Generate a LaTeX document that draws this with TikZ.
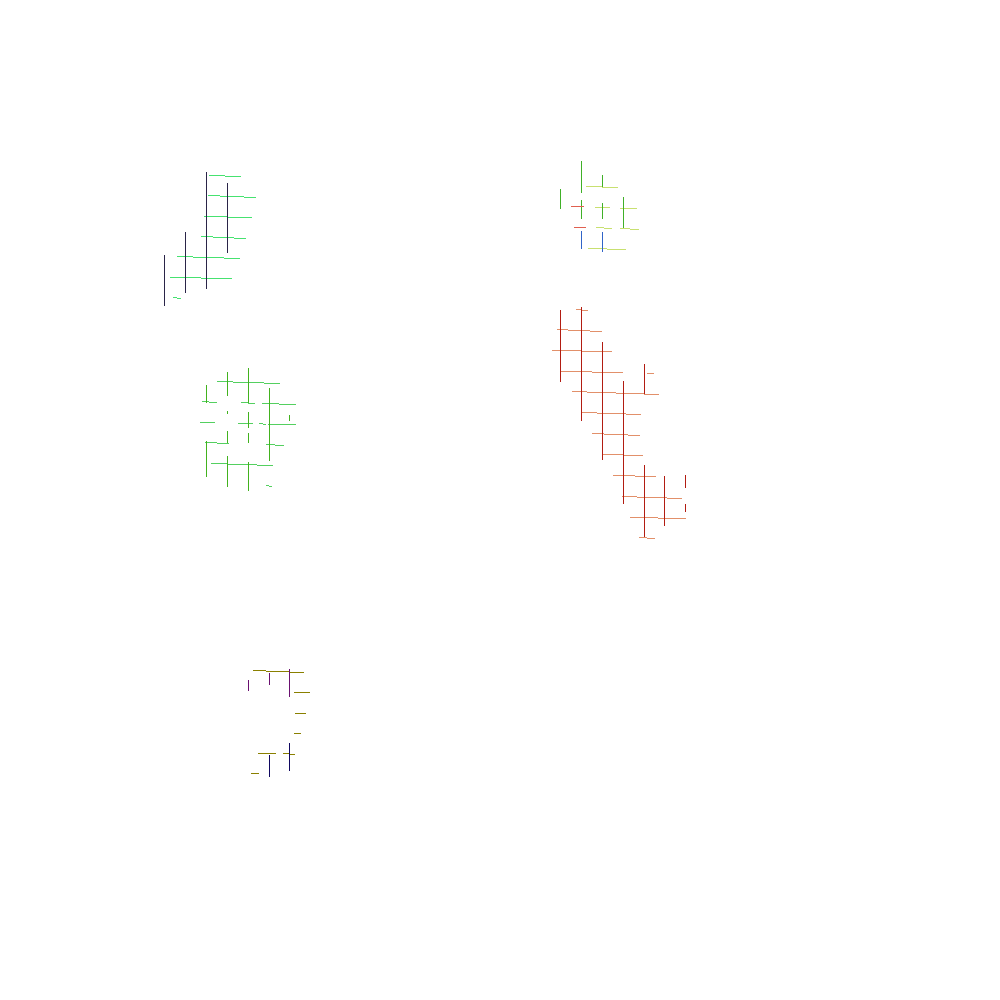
\documentclass[tikz,border=0pt]{standalone}
\begin{document}
\begin{tikzpicture}[x=0.3mm,y=-0.3mm,
  vv/.style={line width=1.3pt},
  hh/.style={line width=0.85pt},
  navyA/.style={vv,draw={rgb,255:red,42;green,36;blue,72}},
  greenA/.style={hh,draw={rgb,255:red,70;green,226;blue,112}},
  greenB/.style={vv,draw={rgb,255:red,64;green,176;blue,40}},
  blueB/.style={vv,draw={rgb,255:red,48;green,100;blue,200}},
  redB/.style={hh,draw={rgb,255:red,224;green,96;blue,80}},
  limeB/.style={hh,draw={rgb,255:red,200;green,224;blue,112}},
  greenC/.style={vv,draw={rgb,255:red,66;green,178;blue,30}},
  greenD/.style={hh,draw={rgb,255:red,84;green,208;blue,96}},
  redD/.style={vv,draw={rgb,255:red,178;green,28;blue,18}},
  orangeD/.style={hh,draw={rgb,255:red,226;green,144;blue,106}},
  oliveE/.style={hh,draw={rgb,255:red,138;green,128;blue,0}},
  purpleE/.style={vv,draw={rgb,255:red,106;green,16;blue,112}},
  navyE/.style={vv,draw={rgb,255:red,16;green,8;blue,96}}]
\useasboundingbox[fill=white] (0,0) rectangle (1000,1000);
% ---------- cluster 1 ----------
\draw[greenA] (209,175.3) -- (225,175.3) (225,176.3) -- (240.7,176.3);
\draw[greenA] (208,195.3) -- (220,195.3) (220,196.3) -- (244,196.3) (244,197.3) -- (256,197.3);
\draw[greenA] (204,216.3) -- (227.3,216.3) (227.3,217.3) -- (251.7,217.3);
\draw[greenA] (201,236.3) -- (212.7,236.3) (212.7,237.3) -- (234,237.3) (234,238.3) -- (246,238.3);
\draw[greenA] (177,256.3) -- (193,256.3) (193,257.3) -- (224,257.3) (224,258.3) -- (240,258.3);
\draw[greenA] (170,277.3) -- (201,277.3) (201,278.3) -- (232,278.3);
\draw[greenA] (173,297) -- (177,297) (177,298) -- (181,298);
\draw[navyA] (164.3,255) -- (164.3,305.7);
\draw[navyA] (185.3,232) -- (185.3,292.7);
\draw[navyA] (206.3,172.3) -- (206.3,288.7);
\draw[navyA] (227.3,183.3) -- (227.3,252.7);
% ---------- cluster 2 ----------
\draw[limeB] (586,186.3) -- (602.3,186.3) (602.3,187.3) -- (618,187.3);
\draw[limeB] (595,207.3) -- (610,207.3);
\draw[limeB] (620,208.3) -- (637,208.3);
\draw[limeB] (596,227.3) -- (604,227.3) (604,228.3) -- (612,228.3);
\draw[limeB] (620,228.3) -- (630,228.3) (630,229.3) -- (639,229.3);
\draw[limeB] (588,248.3) -- (607,248.3) (607,249.3) -- (626,249.3);
\draw[greenB] (581.3,161) -- (581.3,192.7);
\draw[greenB] (602.3,175) -- (602.3,186.7);
\draw[greenB] (560.3,189) -- (560.3,209);
\draw[greenB] (581.3,200) -- (581.3,219);
\draw[greenB] (602.3,203) -- (602.3,219);
\draw[greenB] (623.3,197) -- (623.3,228.3);
\draw[blueB] (581.3,231) -- (581.3,249);
\draw[blueB] (602.3,232) -- (602.3,251.7);
\draw[redB] (571,206.3) -- (584,206.3);
\draw[redB] (574,227.3) -- (586,227.3);
% ---------- cluster 3 ----------
\draw[greenD] (217,381.3) -- (233,381.3) (233,382.3) -- (264,382.3) (264,383.3) -- (280,383.3);
\draw[greenD] (202,401.3) -- (209,401.3) (209,402.3) -- (217,402.3);
\draw[greenD] (241,402.3) -- (248,402.3) (248,403.3) -- (255,403.3);
\draw[greenD] (262,403.3) -- (279,403.3) (279,404.3) -- (296,404.3);
\draw[greenD] (200,422.3) -- (215,422.3);
\draw[greenD] (238,423.3) -- (253,423.3);
\draw[greenD] (259,423.3) -- (263,423.3) (263,424.3) -- (266,424.3);
\draw[greenD] (268,424.3) -- (296,424.3);
\draw[greenD] (205,442.3) -- (217,442.3) (217,443.3) -- (229,443.3);
\draw[greenD] (266,444.3) -- (275,444.3) (275,445.3) -- (284,445.3);
\draw[greenD] (211,463.3) -- (228,463.3) (228,464.3) -- (257,464.3) (257,465.3) -- (273,465.3);
\draw[greenD] (266,485.3) -- (269,485.3) (269,486.3) -- (272,486.3);
\draw[greenC] (227.3,372.3) -- (227.3,395.7);
\draw[greenC] (248.3,368) -- (248.3,402.7);
\draw[greenC] (206.3,385) -- (206.3,402.7);
\draw[greenC] (269.3,388) -- (269.3,460.7);
\draw[greenC] (227.3,411) -- (227.3,414);
\draw[greenC] (248.3,412) -- (248.3,428);
\draw[greenC] (289.3,415) -- (289.3,421);
\draw[greenC] (227.3,431) -- (227.3,443);
\draw[greenC] (248.3,433) -- (248.3,443);
\draw[greenC] (206.3,441) -- (206.3,476.7);
\draw[greenC] (227.3,456) -- (227.3,486.7);
\draw[greenC] (248.3,462) -- (248.3,490.7);
% ---------- cluster 4 ----------
\draw[orangeD] (576,309.3) -- (581.3,309.3) (581.3,310.3) -- (588,310.3);
\draw[orangeD] (557,329.3) -- (568.3,329.3) (568.3,330.3) -- (590.3,330.3) (590.3,331.3) -- (602,331.3);
\draw[orangeD] (552,350.3) -- (581.3,350.3) (581.3,351.3) -- (612,351.3);
\draw[orangeD] (560.3,371.3) -- (592,371.3) (592,372.3) -- (623,372.3);
\draw[orangeD] (647,373.3) -- (654,373.3);
\draw[orangeD] (572,391.3) -- (587,391.3) (587,392.3) -- (615.7,392.3) (615.7,393.3) -- (644.3,393.3) (644.3,394.3) -- (659,394.3);
\draw[orangeD] (581.3,412.3) -- (597,412.3) (597,413.3) -- (626,413.3) (626,414.3) -- (641,414.3);
\draw[orangeD] (592,433.3) -- (604,433.3) (604,434.3) -- (628,434.3) (628,435.3) -- (640,435.3);
\draw[orangeD] (602.3,454.3) -- (623.3,454.3) (623.3,455.3) -- (643,455.3);
\draw[orangeD] (613,475.3) -- (635,475.3) (635,476.3) -- (656,476.3);
\draw[orangeD] (622,496.3) -- (637,496.3) (637,497.3) -- (667,497.3) (667,498.3) -- (682,498.3);
\draw[orangeD] (630,517.3) -- (658,517.3) (658,518.3) -- (686,518.3);
\draw[orangeD] (639,537.3) -- (647,537.3) (647,538.3) -- (655,538.3);
\draw[redD] (560.3,310) -- (560.3,381.7);
\draw[redD] (581.3,307) -- (581.3,420.7);
\draw[redD] (602.3,342) -- (602.3,459.7);
\draw[redD] (644.3,364) -- (644.3,394);
\draw[redD] (623.3,381) -- (623.3,503.7);
\draw[redD] (644.3,465) -- (644.3,536.7);
\draw[redD] (664.3,476) -- (664.3,525.7);
\draw[redD] (685.3,475) -- (685.3,487.7);
\draw[redD] (685.3,504) -- (685.3,511.7);
% ---------- cluster 5 ----------
\draw[oliveE] (253,670.3) -- (266,670.3) (266,671.3) -- (290,671.3) (290,672.3) -- (304,672.3);
\draw[oliveE] (294,692.3) -- (310,692.3);
\draw[oliveE] (295,713.3) -- (306,713.3);
\draw[oliveE] (294,733.3) -- (301,733.3);
\draw[oliveE] (258,753.3) -- (276,753.3);
\draw[oliveE] (283,753.3) -- (290,753.3) (290,754.3) -- (295,754.3);
\draw[oliveE] (251,773.3) -- (259,773.3);
\draw[purpleE] (248.3,680) -- (248.3,691);
\draw[purpleE] (269.3,673) -- (269.3,685);
\draw[purpleE] (289.3,669) -- (289.3,697);
\draw[navyE] (269.3,755) -- (269.3,777);
\draw[navyE] (289.3,743) -- (289.3,771);
\end{tikzpicture}
\end{document}
